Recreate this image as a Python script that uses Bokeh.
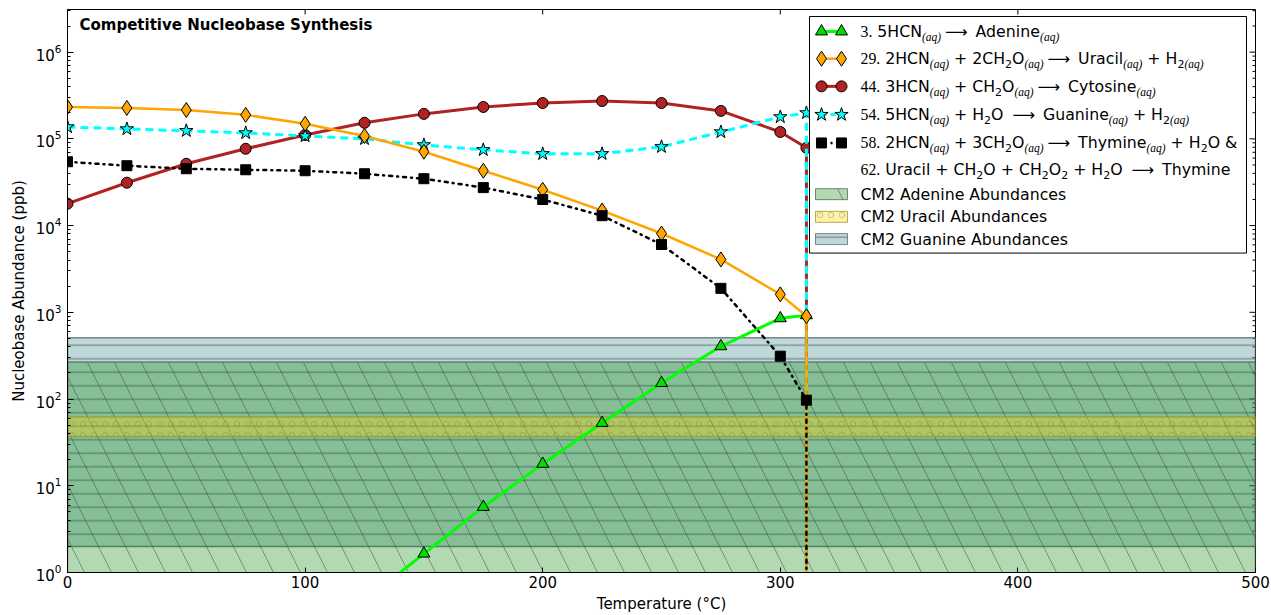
import numpy as np
from bokeh.plotting import figure
from bokeh.models import Label, BoxAnnotation, FixedTicker, LogTicker, Range1d
from bokeh.core.properties import value
from bokeh.embed import file_html
from bokeh.resources import INLINE

# ---------------- data ----------------
TEMPERATURE = np.array([0, 25, 50, 75, 100, 125, 150, 175, 200, 225, 250, 275, 300, 311], dtype=float)
NAN = np.nan
ADENINE = np.array([NAN, NAN, NAN, NAN, NAN, 0.47, 1.65, 5.7, 17.9, 53, 153, 406, 853, 925])
URACIL = np.array([233e3, 227e3, 215e3, 189e3, 149e3, 108e3, 71e3, 42.9e3, 25.9e3, 14.9e3,
                   8.1e3, 4.07e3, 1.61e3, 900])
CYTOSINE = np.array([17.9e3, 31.2e3, 51.6e3, 76.8e3, 111e3, 153e3, 194e3, 233e3, 259e3, 273e3,
                     259e3, 210e3, 120e3, 78.8e3])
GUANINE = np.array([137e3, 130e3, 124e3, 117e3, 108e3, 100e3, 85e3, 74.7e3, 67.2e3, 67.2e3,
                    81e3, 120e3, 179e3, 199e3])
THYMINE = np.array([54.4e3, 49e3, 45.2e3, 44e3, 42.9e3, 39.6e3, 34.7e3, 27.4e3, 20e3, 13e3,
                    6.05e3, 1.89e3, 312, 97])
T_CUTOFF = 311.0      # all abundances collapse here
DEPLETED = 1e-3       # value after collapse (below the axis)

BAND_NAMES = ["CM2 Adenine Abundances", "CM2 Uracil Abundances", "CM2 Guanine Abundances"]
BAND_LOW = [0.3, 37.0, 2.0]
BAND_HIGH = [268.0, 62.0, 510.0]

X_TICKS = [0, 100, 200, 300, 400, 500]
X_LIM = (0, 500)
Y_LIM = (1, 3.1e6)

TITLE = "Competitive Nucleobase Synthesis"
X_LABEL = "Temperature (°C)"
Y_LABEL = "Nucleobase Abundance (ppb)"

LEGEND_ROWS = [
    [("3.", "num"), (" 5HCN", "txt"), ("(aq)", "sub"), ("", "arrow"), ("Adenine", "txt"), ("(aq)", "sub")],
    [("29.", "num"), (" 2HCN", "txt"), ("(aq)", "sub"), (" + 2CH", "txt"), ("2", "subd"), ("O", "txt"),
     ("(aq)", "sub"), ("", "arrow"), ("Uracil", "txt"), ("(aq)", "sub"), (" + H", "txt"), ("2", "subd"),
     ("(aq)", "sub")],
    [("44.", "num"), (" 3HCN", "txt"), ("(aq)", "sub"), (" + CH", "txt"), ("2", "subd"), ("O", "txt"),
     ("(aq)", "sub"), ("", "arrow"), ("Cytosine", "txt"), ("(aq)", "sub")],
    [("54.", "num"), (" 5HCN", "txt"), ("(aq)", "sub"), (" + H", "txt"), ("2", "subd"), ("O ", "txt"),
     ("", "arrow"), ("Guanine", "txt"), ("(aq)", "sub"), (" + H", "txt"), ("2", "subd"), ("(aq)", "sub")],
    [("58.", "num"), (" 2HCN", "txt"), ("(aq)", "sub"), (" + 3CH", "txt"), ("2", "subd"), ("O", "txt"),
     ("(aq)", "sub"), ("", "arrow"), ("Thymine", "txt"), ("(aq)", "sub"), (" + H", "txt"), ("2", "subd"),
     ("O &", "txt")],
    [("62.", "num"), (" Uracil + CH", "txt"), ("2", "subd"), ("O + CH", "txt"), ("2", "subd"), ("O", "txt"),
     ("2", "subd"), (" + H", "txt"), ("2", "subd"), ("O ", "txt"), ("", "arrow"), ("Thymine", "txt")],
    [(BAND_NAMES[0], "txt")],
    [(BAND_NAMES[1], "txt")],
    [(BAND_NAMES[2], "txt")],
]

# ---------------- layout ----------------
W, H = 1271, 615
MB_L, MB_R, MB_T, MB_B = 67, 16, 9, 42
FL, FR = MB_L, W - MB_R
FT, FB = MB_T, H - MB_B
LOG_TOP = np.log10(Y_LIM[1])


def dx(px):
    return X_LIM[0] + (px - FL) / (FR - FL) * (X_LIM[1] - X_LIM[0])


def dy(py):
    return 10 ** (LOG_TOP - (py - FT) / (FB - FT) * LOG_TOP)


p = figure(width=W, height=H, x_range=Range1d(*X_LIM), y_range=Range1d(*Y_LIM),
           y_axis_type="log", output_backend="svg", toolbar_location=None,
           min_border_left=MB_L, min_border_right=MB_R, min_border_top=MB_T,
           min_border_bottom=MB_B, background_fill_color="white", border_fill_color="white")
p.xgrid.visible = False
p.ygrid.visible = False
p.outline_line_color = "black"
p.outline_line_width = 1
p.outline_line_alpha = 1

FONT = "DejaVu Sans"
SERIF = "Liberation Serif"

xa = p.xaxis[0]
xa.ticker = FixedTicker(ticks=X_TICKS, minor_ticks=[])
xa.major_tick_in = 5
xa.major_tick_out = 0
xa.minor_tick_in = 0
xa.minor_tick_out = 0
xa.major_label_text_font = FONT
xa.major_label_text_font_size = "15px"
xa.major_label_text_color = "black"
xa.major_label_standoff = 3
xa.axis_label = X_LABEL
xa.axis_label_text_font = FONT
xa.axis_label_text_font_size = "15px"
xa.axis_label_text_font_style = "normal"
xa.axis_label_text_color = "black"
xa.axis_label_standoff = 4
xa.axis_line_color = "black"
xa.major_tick_line_color = "black"

ya = p.yaxis[0]
ya.ticker = LogTicker(num_minor_ticks=10)
ya.major_tick_in = 6
ya.major_tick_out = 0
ya.minor_tick_in = 3
ya.minor_tick_out = 0
ya.major_label_text_font = FONT
ya.major_label_text_font_size = "15px"
ya.major_label_text_color = "black"
ya.major_label_standoff = 6
ya.axis_label = Y_LABEL
ya.axis_label_text_font = FONT
ya.axis_label_text_font_size = "15px"
ya.axis_label_text_font_style = "normal"
ya.axis_label_text_color = "black"
ya.axis_label_standoff = 5
ya.axis_line_color = "black"
ya.major_tick_line_color = "black"
ya.minor_tick_line_color = "black"

# mirrored ticks on the top and right frame edges (matplotlib classic style)
top_y0, top_y1 = dy(FT + 5), Y_LIM[1]
p.segment(x0=X_TICKS, x1=X_TICKS, y0=[top_y0] * len(X_TICKS), y1=[top_y1] * len(X_TICKS),
          line_color="black", line_width=1)
major_y = [10.0 ** k for k in range(0, 7)]
minor_y = [m * 10.0 ** k for k in range(0, 7) for m in range(2, 10) if m * 10.0 ** k < Y_LIM[1]]
right_x_major = dx(FR - 6)
right_x_minor = dx(FR - 3)
p.segment(x0=[right_x_major] * len(major_y), x1=[X_LIM[1]] * len(major_y), y0=major_y, y1=major_y,
          line_color="black", line_width=1)
p.segment(x0=[right_x_minor] * len(minor_y), x1=[X_LIM[1]] * len(minor_y), y0=minor_y, y1=minor_y,
          line_color="black", line_width=1)

# ---------------- bands ----------------
BAND_HATCH = ["left_diagonal_line", "ring", "horizontal_line"]
BAND_STYLE = [
    dict(fill_color="green", fill_alpha=0.3, hatch_color="#2f3f2f", hatch_alpha=0.45,
         hatch_scale=54, hatch_weight=1, line_color="#5a6a5a", line_alpha=0.8, line_width=1.5),
    dict(fill_color="gold", fill_alpha=0.35, hatch_color="#7a7a50", hatch_alpha=0.45,
         hatch_scale=11, hatch_weight=0.8, line_color="#9a9a30", line_alpha=0.8, line_width=1.5),
    dict(fill_color="cadetblue", fill_alpha=0.4, hatch_color="#4f6060", hatch_alpha=0.55,
         hatch_scale=13.5, hatch_weight=1.5, line_color="#6a7a7b", line_alpha=0.9, line_width=1.5),
]
for i in [2, 0, 1]:
    p.quad(left=X_LIM[0], right=X_LIM[1], bottom=BAND_LOW[i], top=BAND_HIGH[i],
           hatch_pattern=value(BAND_HATCH[i]), **BAND_STYLE[i])

# ---------------- series ----------------
SERIES = [
    (ADENINE, dict(color="lime", width=3, dash="solid"), dict(marker="triangle", size=12, fill="#00dd00")),
    (CYTOSINE, dict(color="firebrick", width=3, dash="solid"), dict(marker="circle", size=11, fill="firebrick")),
    (GUANINE, dict(color="cyan", width=3, dash="8 5"), dict(marker="star", size=14, fill="cyan")),
    (URACIL, dict(color="orange", width=2.5, dash="solid"), dict(marker="diamond", size=15, fill="orange")),
    (THYMINE, dict(color="black", width=2.5, dash="3 5 1 5"), dict(marker="square", size=10, fill="black")),
]
for vals, ls, ms in SERIES:
    xs = np.append(TEMPERATURE, T_CUTOFF)
    ys = np.append(vals, DEPLETED)
    p.line(xs, ys, line_color=ls["color"], line_width=ls["width"], line_dash=ls["dash"],
           line_cap="round" if ls["color"] == "black" else "butt")
    p.scatter(TEMPERATURE, vals, marker=ms["marker"], size=ms["size"], fill_color=ms["fill"],
              line_color="black", line_width=1)

# ---------------- title ----------------
p.add_layout(Label(x=dx(79), y=dy(25), text=TITLE, text_font=FONT, text_font_size="15px",
                   text_font_style="bold", text_color="black", text_baseline="middle"))

# ---------------- legend (drawn by hand) ----------------
p.add_layout(BoxAnnotation(left=dx(809), right=dx(1246), top=dy(16), bottom=dy(253),
                           fill_color="white", fill_alpha=1, line_color="black", line_width=1,
                           line_alpha=1))
ROW_Y = [31, 58.3, 86, 114.3, 142.7, 169.3, 194, 216.7, 239]
TEXT_X = 860
DV = {' ': 651, '.': 651, '+': 1716, '&': 1595, '(': 799, ')': 799,
      'A': 1401, 'C': 1430, 'G': 1577, 'H': 1540, 'M': 1767, 'N': 1532, 'O': 1612, 'T': 1251,
      'U': 1499, 'a': 1255, 'b': 1300, 'c': 1126, 'd': 1300, 'e': 1260, 'h': 1298, 'i': 569,
      'l': 569, 'm': 1995, 'n': 1298, 'o': 1253, 'q': 1300, 'r': 842, 's': 1067, 't': 803,
      'u': 1298, 'y': 1212}
for d in "0123456789":
    DV[d] = 1303
TIMES = {'.': 0.25, '(': 0.333, ')': 0.333, 'a': 0.5, 'q': 0.5, ' ': 0.25}
FS_MAIN = 15.75
KIND = {
    "num": (SERIF, 15.75, "normal", 0.0),
    "txt": (FONT, FS_MAIN, "normal", 0.0),
    "sub": (SERIF, 11.5, "italic", 5.5),
    "subd": (FONT, 11.0, "normal", 5.5),
    "arrow": (FONT, FS_MAIN, "normal", 0.0),
}


def advance(text, kind):
    font, size, _, _ = KIND[kind]
    if font == FONT:
        return sum(DV.get(c, 1300) for c in text) / 2048 * size
    return sum(TIMES.get(c, 0.5) for c in text) * size


SPACE = 651 / 2048 * FS_MAIN
ARROW_PRE, ARROW_ADV = 4.0, 34.5

for row_y, tokens in zip(ROW_Y, LEGEND_ROWS):
    x = TEXT_X
    for text, kind in tokens:
        font, size, style, shift = KIND[kind]
        if kind == "arrow":
            p.add_layout(Label(x=dx(x + ARROW_PRE), y=dy(row_y), text="⟶", text_font=font,
                               text_font_size=f"{size}px", text_color="black",
                               text_baseline="middle"))
            x += ARROW_ADV
            continue
        lead = len(text) - len(text.lstrip(" "))
        trail = len(text) - len(text.rstrip(" "))
        core = text.strip(" ")
        x += lead * SPACE
        p.add_layout(Label(x=dx(x), y=dy(row_y + shift), text=core, text_font=font,
                           text_font_size=f"{size}px", text_font_style=style,
                           text_color="black", text_baseline="middle"))
        x += advance(core, kind) + trail * SPACE

# legend samples for the reaction series (legend order: 3, 29, 44, 54, 58)
SAMPLE_X = [821, 841]
for k, (vals, ls, ms) in enumerate([SERIES[0], SERIES[3], SERIES[1], SERIES[2], SERIES[4]]):
    yy = [dy(ROW_Y[k])] * 2
    xx = [dx(v) for v in SAMPLE_X]
    if ls["dash"] == "8 5":
        sdash = "5 4"
    elif ls["color"] == "black":
        sdash = "2 7"
    else:
        sdash = "solid"
    p.line(xx, yy, line_color=ls["color"], line_width=ls["width"], line_dash=sdash, level="overlay")
    p.scatter(xx, yy, marker=ms["marker"], size=ms["size"], fill_color=ms["fill"],
              line_color="black", line_width=1, level="overlay")

# legend patches for the bands
for k, i in zip(range(6, 9), [0, 1, 2]):
    st = BAND_STYLE[i]
    p.add_layout(BoxAnnotation(left=dx(815), right=dx(847), top=dy(ROW_Y[k] - 5.5),
                               bottom=dy(ROW_Y[k] + 5.5), fill_color=st["fill_color"],
                               fill_alpha=st["fill_alpha"], hatch_pattern=BAND_HATCH[i],
                               hatch_color=st["hatch_color"], hatch_alpha=st["hatch_alpha"],
                               hatch_scale=st["hatch_scale"], hatch_weight=st["hatch_weight"],
                               line_color=st["line_color"], line_alpha=st["line_alpha"],
                               line_width=1))

open("out.html", "w").write(file_html(p, INLINE))
